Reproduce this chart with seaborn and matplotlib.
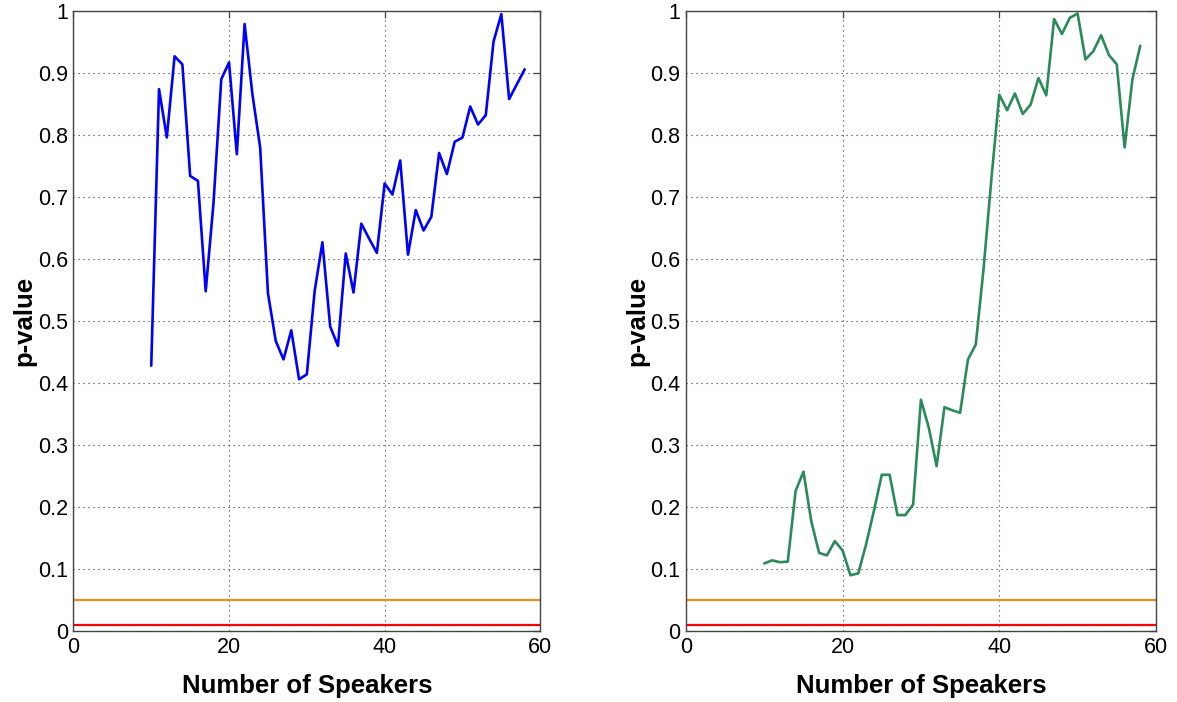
import numpy as np
import pandas as pd
import matplotlib
matplotlib.use("Agg")
import matplotlib.pyplot as plt
import seaborn as sns

# Number of speakers evaluated
speakers = list(range(10, 59))

# p-values for the first test
p_left = [0.428, 0.874, 0.796, 0.927, 0.914, 0.734, 0.726, 0.548, 0.69, 0.89,
          0.917, 0.769, 0.979, 0.866, 0.78, 0.545, 0.468, 0.438, 0.485, 0.406,
          0.414, 0.548, 0.627, 0.491, 0.46, 0.609, 0.546, 0.657, 0.633, 0.61,
          0.722, 0.704, 0.759, 0.607, 0.679, 0.646, 0.668, 0.771, 0.737, 0.789,
          0.796, 0.846, 0.817, 0.832, 0.951, 0.995, 0.858, 0.882, 0.906]

# p-values for the second test
p_right = [0.109, 0.114, 0.111, 0.112, 0.226, 0.257, 0.177, 0.126, 0.122, 0.145,
           0.130, 0.090, 0.093, 0.140, 0.194, 0.252, 0.252, 0.187, 0.187, 0.204,
           0.373, 0.328, 0.266, 0.361, 0.356, 0.352, 0.438, 0.462, 0.585, 0.730,
           0.865, 0.840, 0.867, 0.834, 0.849, 0.892, 0.864, 0.987, 0.963, 0.989,
           0.996, 0.922, 0.935, 0.961, 0.929, 0.914, 0.780, 0.890, 0.944]

# Significance thresholds
alpha_levels = [0.05, 0.01]
alpha_colors = ["#E8911F", "#FF0000"]

x_ticks = [0, 20, 40, 60]
y_ticks = [0, 0.1, 0.2, 0.3, 0.4, 0.5, 0.6, 0.7, 0.8, 0.9, 1]
y_tick_labels = ["0", "0.1", "0.2", "0.3", "0.4", "0.5", "0.6", "0.7", "0.8", "0.9", "1"]

sns.set_style("white")
plt.rcParams["font.family"] = ["Liberation Sans", "DejaVu Sans"]
plt.rcParams["text.color"] = "black"
plt.rcParams["axes.labelcolor"] = "black"

fig = plt.figure(figsize=(11.77, 7.02), dpi=100)
ax_left = fig.add_axes([0.0624, 0.1011, 0.3966, 0.8832])
ax_right = fig.add_axes([0.5828, 0.1011, 0.3993, 0.8832])

df_left = pd.DataFrame({"speakers": speakers, "p": p_left})
df_right = pd.DataFrame({"speakers": speakers, "p": p_right})

for ax, df, color in [(ax_left, df_left, "#0000FF"), (ax_right, df_right, "#2A8A5A")]:
    sns.lineplot(data=df, x="speakers", y="p", ax=ax, color=color, linewidth=1.9)
    for lvl, c in zip(alpha_levels, alpha_colors):
        ax.axhline(lvl, color=c, linewidth=1.6, zorder=1)
    ax.set_xlim(0, 60)
    ax.set_ylim(0, 1)
    ax.set_xticks(x_ticks)
    ax.set_yticks(y_ticks)
    ax.set_yticklabels(y_tick_labels)
    ax.grid(True, linestyle=(0, (1, 3.5)), color="#333333", linewidth=0.8)
    ax.tick_params(direction="in", length=5, width=0.9, color="#444444",
                   labelsize=15.5, top=True, right=True, pad=4,
                   labelcolor="black")
    for s in ax.spines.values():
        s.set_color("#444444")
        s.set_linewidth(1.0)
    ax.set_xlabel("Number of Speakers", fontsize=18.5, fontweight="bold",
                  labelpad=12, color="black")
    ax.set_ylabel("p-value", fontsize=18.5, fontweight="bold", labelpad=1,
                  color="black")

fig.savefig("out.png", dpi=100, facecolor="white")
